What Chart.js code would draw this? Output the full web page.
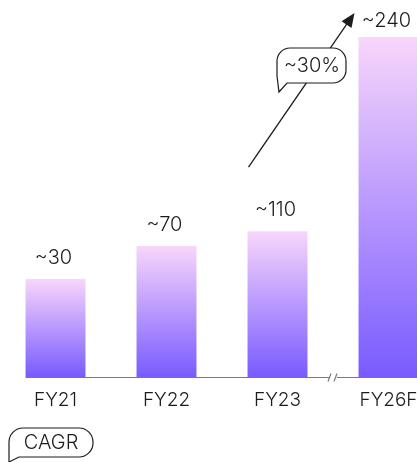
<!DOCTYPE html>
<html>
<head>
<meta charset="utf-8">
<script src="https://cdn.jsdelivr.net/npm/chart.js@4/dist/chart.umd.min.js"></script>
<style>
  html, body { margin: 0; padding: 0; background: #fff; overflow: hidden; width: 417px; height: 462px; }
  #wrap { position: relative; width: 444px; height: 462px; }
</style>
</head>
<body>
<div id="wrap"><canvas id="chart" width="444" height="462"></canvas></div>
<script>
// categories and values
const years = [ "FY21", "FY22", "FY23", "FY26F" ]
const valueLabels = [ "~30", "~70", "~110", "~240" ]
// bars are not drawn to scale in the picture : relative heights (tallest = 100)
const barHeights = [ 28.8, 38.5, 42.9, 100 ]
const cagrText = "~30%"
const cagrTitle = "CAGR"

const FONT = "Inter, 'Noto Sans', sans-serif"
const WEIGHT = 300
const INK = "#1c1c1c"

/** dégradé vertical par barre */
function barGradient( context ) {
    const chart = context.chart
    const area = chart.chartArea
    if ( !area || !context.parsed ) return "#b99afd"
    const top = chart.scales.y.getPixelForValue( context.parsed.y )
    const g = chart.ctx.createLinearGradient( 0, top, 0, area.bottom )
    g.addColorStop( 0, "#f8d6fb" )
    g.addColorStop( 1, "#795bff" )
    return g
}

/** bulle aux coins arrondis avec une pointe en bas à gauche */
function bubble( ctx, x, y, w, h, r, tipX, tipY ) {
    ctx.beginPath()
    ctx.moveTo( x + r, y )
    ctx.lineTo( x + w - r, y )
    ctx.arcTo( x + w, y, x + w, y + r, r )
    ctx.lineTo( x + w, y + h - r )
    ctx.arcTo( x + w, y + h, x + w - r, y + h, r )
    ctx.lineTo( x + 10, y + h )
    ctx.lineTo( tipX, tipY )
    ctx.lineTo( x, y + h - 7 )
    ctx.lineTo( x, y + r )
    ctx.arcTo( x, y, x + r, y, r )
    ctx.closePath()
    ctx.fillStyle = "#fff"
    ctx.fill()
    ctx.lineWidth = 1.2
    ctx.strokeStyle = INK
    ctx.stroke()
}

const decorations = {
    id: "decorations",
    afterDatasetsDraw( chart ) {
        const ctx = chart.ctx
        const meta = chart.getDatasetMeta( 0 )
        const area = chart.chartArea
        const first = meta.data[ 0 ]
        const last = meta.data[ meta.data.length - 1 ]

        ctx.save()
        // ligne de base
        const base = area.bottom + 0.5
        ctx.strokeStyle = "#7a7a7a"
        ctx.lineWidth = 1.2
        ctx.beginPath()
        ctx.moveTo( first.x - first.width / 2, base )
        ctx.lineTo( chart.width, base )
        ctx.stroke()
        // coupure de l'axe
        const bx = ( meta.data[ 2 ].x + last.x ) / 2
        ctx.fillStyle = "#fff"
        ctx.fillRect( bx - 4, base - 2, 8, 4 )
        ctx.beginPath()
        ctx.moveTo( bx - 5, base + 4 ); ctx.lineTo( bx - 2, base - 4 )
        ctx.moveTo( bx + 1, base + 4 ); ctx.lineTo( bx + 4, base - 4 )
        ctx.stroke()

        // étiquettes de valeur
        ctx.fillStyle = INK
        ctx.font = WEIGHT + " 20px " + FONT
        ctx.textAlign = "center"
        ctx.textBaseline = "alphabetic"
        meta.data.forEach( ( bar, i ) => {
            ctx.fillText( valueLabels[ i ], bar.x - 2, Math.max( bar.y - 15, area.top - 10 ) )
        } )

        // flèche de croissance
        const bar3 = meta.data[ 2 ]
        const x0 = bar3.x - 29, y0 = bar3.y - 64
        const x1 = last.x - 34, y1 = 13
        const ang = Math.atan2( y1 - y0, x1 - x0 )
        ctx.strokeStyle = INK
        ctx.lineWidth = 1.3
        ctx.beginPath()
        ctx.moveTo( x0, y0 )
        ctx.lineTo( x1 - 10 * Math.cos( ang ), y1 - 10 * Math.sin( ang ) )
        ctx.stroke()
        ctx.fillStyle = INK
        ctx.beginPath()
        ctx.moveTo( x1, y1 )
        ctx.lineTo( x1 - 14 * Math.cos( ang ) + 6 * Math.sin( ang ), y1 - 14 * Math.sin( ang ) - 6 * Math.cos( ang ) )
        ctx.lineTo( x1 - 14 * Math.cos( ang ) - 6 * Math.sin( ang ), y1 - 14 * Math.sin( ang ) + 6 * Math.cos( ang ) )
        ctx.closePath()
        ctx.fill()

        // bulle ~30%
        bubble( ctx, 277, 48, 69, 35, 13, 279, 92 )
        ctx.fillStyle = INK
        ctx.font = WEIGHT + " 20px " + FONT
        ctx.textAlign = "center"
        ctx.textBaseline = "middle"
        ctx.fillText( cagrText, 312, 66 )

        // bulle CAGR
        bubble( ctx, 9, 428, 84, 29, 14, 9, 462 )
        ctx.fillStyle = INK
        ctx.font = WEIGHT + " 20px " + FONT
        ctx.fillText( cagrTitle, 51, 443 )
        ctx.restore()
    }
}

new Chart( document.getElementById( "chart" ), {
    type: "bar",
    data: {
        labels: years,
        datasets: [ {
            data: barHeights,
            backgroundColor: barGradient,
            borderWidth: 0,
            barPercentage: 0.54,
            categoryPercentage: 1
        } ]
    },
    options: {
        responsive: false,
        animation: false,
        layout: { padding: { top: 37, left: 0, right: 0, bottom: 0 } },
        plugins: { legend: { display: false }, tooltip: { enabled: false } },
        scales: {
            x: {
                grid: { display: false, drawTicks: false },
                border: { display: false },
                ticks: { color: INK, font: { family: FONT, size: 19, weight: WEIGHT }, padding: 12 },
                afterFit( scale ) { scale.height = 85 }
            },
            y: { display: false, min: 0, max: 100 }
        }
    },
    plugins: [ decorations ]
} )
</script>
</body>
</html>
